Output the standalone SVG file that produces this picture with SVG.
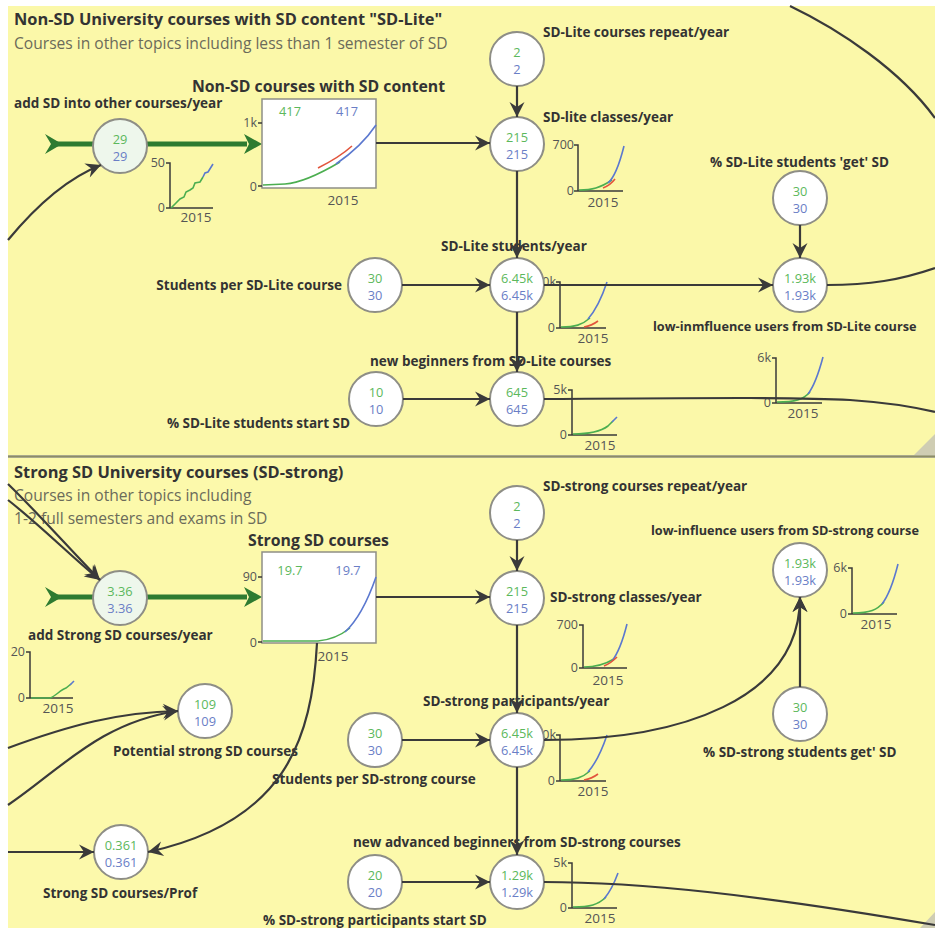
<svg xmlns="http://www.w3.org/2000/svg" width="935" height="928" viewBox="0 0 935 928">
  <style>
    text { font-family: "Open Sans", "Liberation Sans", sans-serif; }
    .title { font-size: 16.4px; font-weight: bold; fill: #333; }
    .sub { font-size: 15.6px; fill: #6b6b5a; }
    .stockt { font-size: 15.8px; font-weight: bold; fill: #333; }
    .lbl { font-size: 13.5px; font-weight: bold; fill: #333; }
    .lbl-edge { font-size: 12.7px; }
    .vg { font-size: 12.8px; fill: #5cb85c; text-anchor: middle; }
    .vb { font-size: 12.8px; fill: #6a7ec6; text-anchor: middle; }
    .tk { font-size: 12.5px; fill: #555; text-anchor: end; }
    .yr { font-size: 13.5px; fill: #555; text-anchor: middle; }
    .ax { stroke: #3a3a3a; stroke-width: 1.5; fill: none; }
    .cg { stroke: #4cae50; stroke-width: 1.6; fill: none; }
    .cb { stroke: #5b78cf; stroke-width: 1.6; fill: none; }
    .cr { stroke: #e2553d; stroke-width: 1.6; fill: none; }
    .node { fill: #fff; stroke: #8e8e86; stroke-width: 2; }
    .valve { fill: #eef7ec; stroke: #8e8e86; stroke-width: 2; }
    .box { fill: #fff; stroke: #8e8e86; stroke-width: 1.5; }
    .flow { stroke: #2e7b31; stroke-width: 5; fill: none; }
    .flowhead { fill: #2e7b31; }
    .link { stroke: #3a3a3a; stroke-width: 2.2; fill: none; }
    .arr { marker-end: url(#arrow); }
  </style>
  <defs>
    <marker id="arrow" markerUnits="userSpaceOnUse" markerWidth="18" markerHeight="18" refX="15" refY="0" viewBox="-1 -9 17 18" orient="auto">
      <path d="M0,-7.5 L15,0 L0,7.5 L5,0 z" fill="#3a3a3a"/>
    </marker>
  </defs>

  <!-- page background and the two panels -->
  <rect x="0" y="0" width="935" height="928" fill="#ffffff"/>
  <rect x="8" y="6" width="927" height="449" fill="#fbf8a9"/>
  <rect x="8" y="458" width="927" height="470" fill="#fcf9ab"/>
  <line x1="8" y1="456.5" x2="935" y2="456.5" stroke="#8c8c66" stroke-width="2.5"/>
  <polygon points="914,455 935,434 935,455" fill="#cfcdb3"/>
  <polygon points="920,928 935,912 935,928" fill="#cfcdb3"/>

  <!-- panel headings -->
  <g id="heading-lite">
    <text class="title" x="14" y="25">Non-SD University courses with SD content "SD-Lite"</text>
    <text class="sub" x="14" y="49">Courses in other topics including less than 1 semester of SD</text>
  </g>
  <g id="heading-strong">
    <text class="title" x="14" y="478">Strong SD University courses (SD-strong)</text>
    <text class="sub" x="14" y="501">Courses in other topics including</text>
    <text class="sub" x="14" y="524">1-2 full semesters and exams in SD</text>
  </g>

  <!-- sparkline charts -->
  <g id="charts">
    <!-- add SD into other courses/year -->
    <path class="ax" d="M166,163 H170 V208 H213 M166,208 H170"/>
    <text class="tk" x="165" y="167">50</text>
    <text class="tk" x="165" y="212">0</text>
    <text class="yr" x="196" y="222">2015</text>
    <path class="cg" d="M171,208 L176,203 L180,199 L184,197 L186,192 L190,190 L193,188 L195,183 L200,182 L203,177"/>
    <path class="cb" d="M203,177 L205,173 L208,172 L213,164"/>

    <!-- SD-lite classes/year -->
    <path class="ax" d="M574,145 H578 V191 H623 M574,191 H578"/>
    <text class="tk" x="574" y="149">700</text>
    <text class="tk" x="574" y="195">0</text>
    <text class="yr" x="603" y="207">2015</text>
    <path class="cg" d="M579,190 C592,190 600,188 612,180"/>
    <path class="cb" d="M608,183 C615,177 620,162 624,146"/>
    <path class="cr" d="M603,188 C608,186 612,183 615,179"/>

    <!-- SD-Lite students/year -->
    <path class="ax" d="M556,282 H560 V328 H606 M556,328 H560"/>
    <text class="tk" x="556" y="286">10k</text>
    <text class="tk" x="555" y="332">0</text>
    <text class="yr" x="593" y="343">2015</text>
    <path class="cg" d="M561,327 C575,327 582,325 590,318"/>
    <path class="cb" d="M588,319 C596,310 602,297 607,282"/>
    <path class="cr" d="M584,327 C590,326 594,324 598,321"/>

    <!-- new beginners from SD-Lite courses -->
    <path class="ax" d="M568,390 H572 V435 H617 M568,435 H572"/>
    <text class="tk" x="567" y="394">5k</text>
    <text class="tk" x="567" y="439">0</text>
    <text class="yr" x="600" y="450">2015</text>
    <path class="cg" d="M573,434 C590,434 600,432 608,426 L613,421"/>
    <path class="cb" d="M612,422 L617,417"/>

    <!-- low-inmfluence users from SD-Lite course -->
    <path class="ax" d="M772,358 H776 V403 H822 M772,403 H776"/>
    <text class="tk" x="771" y="362">6k</text>
    <text class="tk" x="771" y="407">0</text>
    <text class="yr" x="803" y="418">2015</text>
    <path class="cg" d="M777,402 C795,402 803,400 810,392"/>
    <path class="cb" d="M808,394 C815,385 819,372 823,357"/>

    <!-- add Strong SD courses/year -->
    <path class="ax" d="M26,652 H30 V698 H73 M26,698 H30"/>
    <text class="tk" x="25" y="656">20</text>
    <text class="tk" x="25" y="702">0</text>
    <text class="yr" x="58" y="713">2015</text>
    <path class="cg" d="M31,698 L50,698 C56,696 60,690 66,688 L71,684"/>
    <path class="cb" d="M70,685 L74,681"/>

    <!-- SD-strong classes/year -->
    <path class="ax" d="M579,625 H583 V668 H627 M579,668 H583"/>
    <text class="tk" x="578" y="629">700</text>
    <text class="tk" x="578" y="672">0</text>
    <text class="yr" x="608" y="685">2015</text>
    <path class="cg" d="M584,667 C596,667 604,665 614,659"/>
    <path class="cb" d="M612,661 C619,652 623,640 627,624"/>
    <path class="cr" d="M604,666 C609,664 613,661 617,657"/>

    <!-- SD-strong participants/year -->
    <path class="ax" d="M556,735 H560 V781 H606 M556,781 H560"/>
    <text class="tk" x="556" y="739">10k</text>
    <text class="tk" x="555" y="785">0</text>
    <text class="yr" x="593" y="796">2015</text>
    <path class="cg" d="M561,780 C575,780 582,778 590,771"/>
    <path class="cb" d="M588,772 C596,763 602,750 607,735"/>
    <path class="cr" d="M584,780 C590,779 594,777 598,774"/>

    <!-- new advanced beginners from SD-strong courses -->
    <path class="ax" d="M568,863 H572 V908 H617 M568,908 H572"/>
    <text class="tk" x="567" y="867">5k</text>
    <text class="tk" x="567" y="912">0</text>
    <text class="yr" x="600" y="923">2015</text>
    <path class="cg" d="M573,907 C590,907 598,905 606,897"/>
    <path class="cb" d="M604,899 C610,892 614,884 618,873"/>

    <!-- low-influence users from SD-strong course -->
    <path class="ax" d="M848,568 H852 V614 H897 M848,614 H852"/>
    <text class="tk" x="847" y="572">6k</text>
    <text class="tk" x="847" y="618">0</text>
    <text class="yr" x="876" y="629">2015</text>
    <path class="cg" d="M853,613 C870,613 877,610 884,602"/>
    <path class="cb" d="M882,604 C889,595 894,580 898,564"/>
  </g>

  <!-- material flows into the two stocks -->
  <g id="flows">
    <polygon class="flowhead" points="45,134 62,144 45,154 51,144"/>
    <path class="flow" d="M52,144 H95 M146,144 H247"/>
    <polygon class="flowhead" points="244,134 262,144 244,154 249,144"/>

    <polygon class="flowhead" points="45,587 62,597 45,607 51,597"/>
    <path class="flow" d="M52,597 H95 M146,597 H247"/>
    <polygon class="flowhead" points="244,587 262,597 244,607 249,597"/>
  </g>

  <!-- SD-Lite panel -->
  <g id="stock-lite">
    <text class="stockt" x="192" y="92">Non-SD courses with SD content</text>
    <rect class="box" x="262" y="99" width="114" height="89"/>
    <path class="ax" d="M258,123 H262 M258,186 H262"/>
    <text class="tk" x="257" y="127">1k</text>
    <text class="tk" x="257" y="191">0</text>
    <text class="yr" x="343" y="205">2015</text>
    <text class="vg" x="290" y="116">417</text>
    <text class="vb" x="347" y="116">417</text>
    <path class="cg" d="M263,185 L285,184 C300,183 318,175 340,162"/>
    <path class="cb" d="M336,164 C352,153 366,140 376,125"/>
    <path class="cr" d="M318,168 C330,162 342,155 352,146"/>
  </g>
  <g id="valve-add-sd">
    <text class="lbl" x="14" y="108">add SD into other courses/year</text>
    <circle class="valve" cx="120" cy="146" r="27"/>
    <text class="vg" x="120" y="144">29</text>
    <text class="vb" x="120" y="161">29</text>
  </g>
  <g id="lite-repeat">
    <text class="lbl" x="543" y="37">SD-Lite courses repeat/year</text>
    <circle class="node" cx="517" cy="59" r="27"/>
    <text class="vg" x="517" y="57">2</text>
    <text class="vb" x="517" y="74">2</text>
  </g>
  <g id="lite-classes">
    <text class="lbl" x="543" y="122">SD-lite classes/year</text>
    <circle class="node" cx="517" cy="144" r="27"/>
    <text class="vg" x="517" y="142">215</text>
    <text class="vb" x="517" y="159">215</text>
  </g>
  <g id="lite-get-sd">
    <text class="lbl" x="710" y="167">% SD-Lite students 'get' SD</text>
    <circle class="node" cx="800" cy="198" r="27"/>
    <text class="vg" x="800" y="196">30</text>
    <text class="vb" x="800" y="213">30</text>
  </g>
  <g id="lite-students-per-course">
    <text class="lbl" x="342" y="290" text-anchor="end">Students per SD-Lite course</text>
    <circle class="node" cx="375" cy="285" r="27"/>
    <text class="vg" x="375" y="283">30</text>
    <text class="vb" x="375" y="300">30</text>
  </g>
  <g id="lite-students">
    <text class="lbl" x="441" y="251">SD-Lite students/year</text>
    <circle class="node" cx="517" cy="285" r="27"/>
    <text class="vg" x="517" y="283">6.45k</text>
    <text class="vb" x="517" y="300">6.45k</text>
  </g>
  <g id="lite-low-influence">
    <text class="lbl lbl-edge" x="653" y="331">low-inmfluence users from SD-Lite course</text>
    <circle class="node" cx="800" cy="285" r="27"/>
    <text class="vg" x="800" y="283">1.93k</text>
    <text class="vb" x="800" y="300">1.93k</text>
  </g>
  <g id="lite-start-sd">
    <text class="lbl" x="350" y="428" text-anchor="end">% SD-Lite students start SD</text>
    <circle class="node" cx="376" cy="399" r="27"/>
    <text class="vg" x="376" y="397">10</text>
    <text class="vb" x="376" y="414">10</text>
  </g>
  <g id="lite-beginners">
    <text class="lbl" x="370" y="366">new beginners from SD-Lite courses</text>
    <circle class="node" cx="517" cy="399" r="27"/>
    <text class="vg" x="517" y="397">645</text>
    <text class="vb" x="517" y="414">645</text>
  </g>

  <!-- SD-strong panel -->
  <g id="stock-strong">
    <text class="stockt" x="248" y="546">Strong SD courses</text>
    <rect class="box" x="262" y="552" width="114" height="91"/>
    <path class="ax" d="M258,577 H262 M258,642 H262"/>
    <text class="tk" x="257" y="581">90</text>
    <text class="tk" x="257" y="647">0</text>
    <text class="yr" x="333" y="661">2015</text>
    <text class="vg" x="290" y="575">19.7</text>
    <text class="vb" x="348" y="575">19.7</text>
    <path class="cg" d="M263,641 L318,641 C330,640 340,636 350,628"/>
    <path class="cb" d="M345,632 C358,620 368,600 376,577"/>
  </g>
  <g id="valve-add-strong">
    <text class="lbl" x="28" y="640">add Strong SD courses/year</text>
    <circle class="valve" cx="120" cy="598" r="27"/>
    <text class="vg" x="120" y="596">3.36</text>
    <text class="vb" x="120" y="613">3.36</text>
  </g>
  <g id="strong-repeat">
    <text class="lbl" x="543" y="491">SD-strong courses repeat/year</text>
    <circle class="node" cx="517" cy="513" r="27"/>
    <text class="vg" x="517" y="511">2</text>
    <text class="vb" x="517" y="528">2</text>
  </g>
  <g id="strong-classes">
    <text class="lbl" x="550" y="602">SD-strong classes/year</text>
    <circle class="node" cx="517" cy="598" r="27"/>
    <text class="vg" x="517" y="596">215</text>
    <text class="vb" x="517" y="613">215</text>
  </g>
  <g id="strong-low-influence">
    <text class="lbl lbl-edge" x="651" y="535">low-influence users from SD-strong course</text>
    <circle class="node" cx="800" cy="570" r="27"/>
    <text class="vg" x="800" y="568">1.93k</text>
    <text class="vb" x="800" y="585">1.93k</text>
  </g>
  <g id="strong-get-sd">
    <text class="lbl" x="703" y="757">% SD-strong students get' SD</text>
    <circle class="node" cx="800" cy="714" r="27"/>
    <text class="vg" x="800" y="712">30</text>
    <text class="vb" x="800" y="729">30</text>
  </g>
  <g id="strong-students-per-course">
    <text class="lbl" x="272" y="784">Students per SD-strong course</text>
    <circle class="node" cx="375" cy="740" r="27"/>
    <text class="vg" x="375" y="738">30</text>
    <text class="vb" x="375" y="755">30</text>
  </g>
  <g id="strong-participants">
    <text class="lbl" x="423" y="706">SD-strong participants/year</text>
    <circle class="node" cx="517" cy="740" r="27"/>
    <text class="vg" x="517" y="738">6.45k</text>
    <text class="vb" x="517" y="755">6.45k</text>
  </g>
  <g id="strong-start-sd">
    <text class="lbl" x="263" y="925">% SD-strong participants start SD</text>
    <circle class="node" cx="375" cy="882" r="27"/>
    <text class="vg" x="375" y="880">20</text>
    <text class="vb" x="375" y="897">20</text>
  </g>
  <g id="strong-advanced-beginners">
    <text class="lbl" x="353" y="847">new advanced beginners from SD-strong courses</text>
    <circle class="node" cx="517" cy="882" r="27"/>
    <text class="vg" x="517" y="880">1.29k</text>
    <text class="vb" x="517" y="897">1.29k</text>
  </g>
  <g id="potential-strong">
    <text class="lbl" x="113" y="756">Potential strong SD courses</text>
    <circle class="node" cx="205" cy="711" r="27"/>
    <text class="vg" x="205" y="709">109</text>
    <text class="vb" x="205" y="726">109</text>
  </g>
  <g id="courses-per-prof">
    <text class="lbl" x="43" y="898">Strong SD courses/Prof</text>
    <circle class="node" cx="121" cy="852" r="27"/>
    <text class="vg" x="121" y="850">0.361</text>
    <text class="vb" x="121" y="867">0.361</text>
  </g>

  <!-- causal links -->
  <g id="connectors">
    <path class="link" d="M790,6 C840,30 900,70 935,118"/>
    <path class="link arr" d="M8,240 Q55,183 101,165"/>
    <path class="link arr" d="M376,143 H490"/>
    <path class="link arr" d="M517,86 V117"/>
    <path class="link arr" d="M517,171 V258"/>
    <path class="link arr" d="M402,285 H490"/>
    <path class="link arr" d="M544,285 H773"/>
    <path class="link arr" d="M800,225 V258"/>
    <path class="link" d="M827,285 C870,285 900,280 935,268"/>
    <path class="link arr" d="M517,312 V372"/>
    <path class="link arr" d="M403,399 H490"/>
    <path class="link" d="M544,399 C700,398 800,397 850,400 C880,402 910,406 935,412"/>

    <path class="link arr" d="M8,484 C40,515 75,555 100,580"/>
    <path class="link arr" d="M8,500 C40,525 75,560 100,580"/>
    <path class="link arr" d="M376,597 H490"/>
    <path class="link arr" d="M517,540 V571"/>
    <path class="link arr" d="M517,625 V713"/>
    <path class="link arr" d="M402,740 H490"/>
    <path class="link arr" d="M544,740 C680,740 800,700 800,597"/>
    <path class="link arr" d="M800,687 V597"/>
    <path class="link arr" d="M517,767 V855"/>
    <path class="link arr" d="M402,882 H490"/>
    <path class="link" d="M544,882 C640,882 760,895 935,925"/>
    <path class="link arr" d="M8,748 C70,725 120,712 178,711"/>
    <path class="link arr" d="M8,805 C60,770 100,722 178,711"/>
    <path class="link arr" d="M8,852 H94"/>
    <path class="link arr" d="M317,643 C312,740 285,822 148,852"/>
  </g>
</svg>
